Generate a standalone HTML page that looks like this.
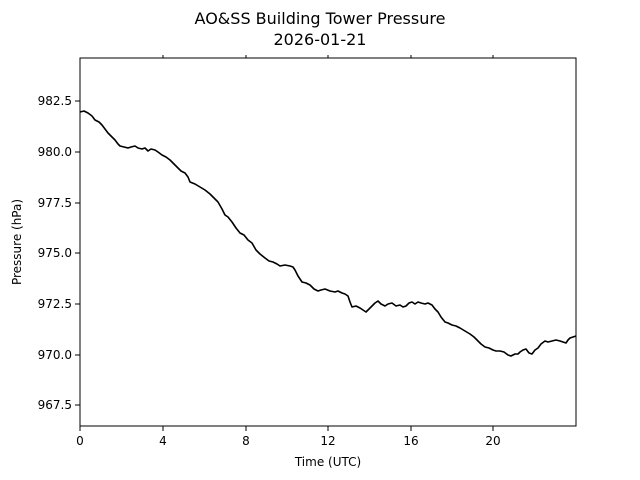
<!DOCTYPE html>
<html><head><meta charset="utf-8"><style>
html,body{margin:0;padding:0;background:#fff;}
svg{display:block;font-family:"DejaVu Sans","Liberation Sans",sans-serif;}
</style></head><body>
<svg width="640" height="480" viewBox="0 0 640 480" xmlns="http://www.w3.org/2000/svg">
<rect width="640" height="480" fill="#fff"/>
<text x="320" y="24" text-anchor="middle" font-size="16">AO&amp;SS Building Tower Pressure</text>
<text x="320" y="45" text-anchor="middle" font-size="16">2026-01-21</text>
<polyline fill="none" stroke="#000" stroke-width="1.6" stroke-linejoin="round" points="80,112 84,111 88,113 92,116 95,120 99,122 102,125 105,129 108,133 112,137 115,140 118,144 120,146 124,147 128,148 131,147 135,146 138,148 142,149 145,148 148,151 151,149 155,150 158,152 162,155 166,157 170,160 174,164 178,168 181,171 185,173 188,177 190,182 195,184 200,187 205,190 210,194 214,198 218,202 222,209 225,215 228,217 232,222 236,228 240,233 244,235 248,240 252,243 256,250 260,254 265,258 269,261 273,262 277,264 280,266 285,265 290,266 293,267 295,270 298,276 302,282 306,283 310,285 314,289 318,291 321,290 325,289 330,291 335,292 338,291 342,293 345,294 348,296 350,302 352,307 356,306 360,308 363,310 366,312 369,309 372,306 375,303 378,301 381,304 385,306 388,304 392,303 396,306 400,305 403,307 406,306 409,303 412,302 415,304 418,302 421,303 425,304 428,303 432,305 435,309 438,312 441,317 445,322 448,323 452,325 456,326 460,328 465,331 470,334 474,337 478,341 481,344 485,347 489,348 493,350 496,351 500,351 504,352 508,355 511,356 515,354 518,354 520,352 523,350 526,349 529,353 532,354 535,350 538,348 541,344 545,341 548,342 552,341 556,340 560,341 563,342 566,343 568,340 570,338 573,337 576,336"/>
<rect x="80" y="58" width="496" height="368" fill="none" stroke="#000" stroke-width="1"/>
<g stroke="#000" stroke-width="1">
<line x1="80" y1="426" x2="80" y2="431"/><line x1="163" y1="426" x2="163" y2="431"/><line x1="246" y1="426" x2="246" y2="431"/><line x1="328" y1="426" x2="328" y2="431"/><line x1="411" y1="426" x2="411" y2="431"/><line x1="493" y1="426" x2="493" y2="431"/>
<line x1="163" y1="58" x2="163" y2="55"/><line x1="246" y1="58" x2="246" y2="55"/><line x1="328" y1="58" x2="328" y2="55"/><line x1="411" y1="58" x2="411" y2="55"/><line x1="493" y1="58" x2="493" y2="55"/>
<line x1="80" y1="101" x2="75" y2="101"/><line x1="80" y1="152" x2="75" y2="152"/><line x1="80" y1="203" x2="75" y2="203"/><line x1="80" y1="253" x2="75" y2="253"/><line x1="80" y1="304" x2="75" y2="304"/><line x1="80" y1="355" x2="75" y2="355"/><line x1="80" y1="405" x2="75" y2="405"/>
</g>
<g font-size="12" text-anchor="middle">
<text x="80" y="445">0</text><text x="163" y="445">4</text><text x="246" y="445">8</text><text x="328" y="445">12</text><text x="411" y="445">16</text><text x="493" y="445">20</text>
</g>
<g font-size="12" text-anchor="end">
<text x="72" y="105">982.5</text><text x="72" y="156">980.0</text><text x="72" y="207">977.5</text><text x="72" y="257">975.0</text><text x="72" y="308">972.5</text><text x="72" y="359">970.0</text><text x="72" y="409">967.5</text>
</g>
<text x="328" y="466" text-anchor="middle" font-size="12">Time (UTC)</text>
<text transform="translate(21,242) rotate(-90)" text-anchor="middle" font-size="12">Pressure (hPa)</text>
</svg>
</body></html>
